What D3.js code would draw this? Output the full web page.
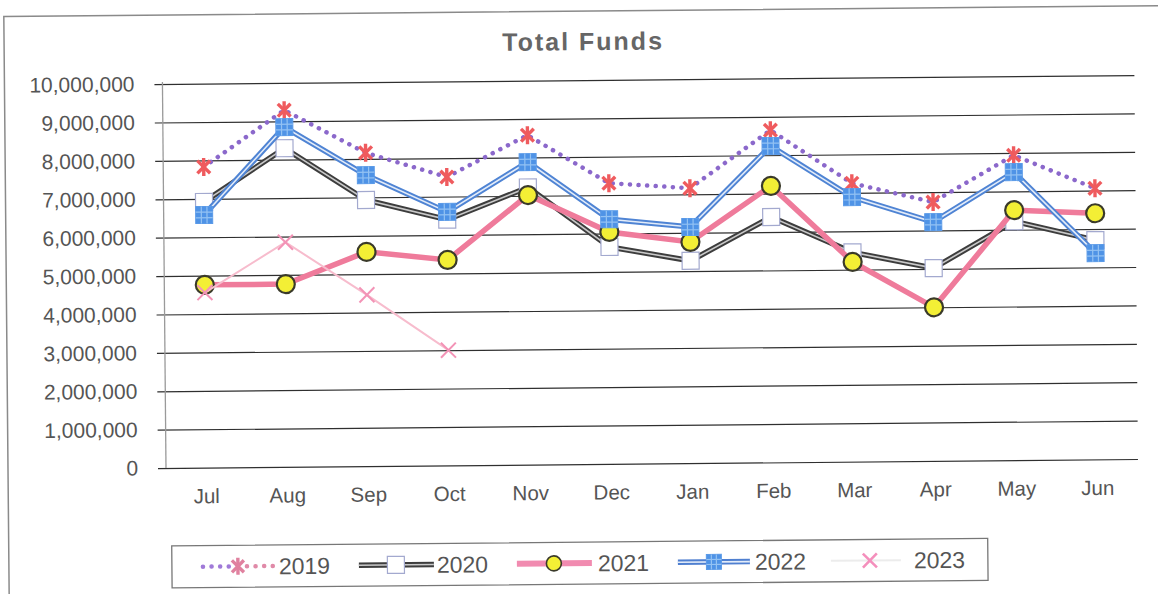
<!DOCTYPE html>
<html>
<head>
<meta charset="utf-8">
<script src="https://cdn.jsdelivr.net/npm/d3@7"></script>
<style>
  html, body { margin: 0; padding: 0; background: #fff; }
  svg { display: block; }
</style>
</head>
<body>
<svg id="chart" width="1158" height="594"></svg>
<script>
// ---- data ----
const months = ["Jul","Aug","Sep","Oct","Nov","Dec","Jan","Feb","Mar","Apr","May","Jun"];
const years = ["2019","2020","2021","2022","2023"];
const s2019 = [7830000, 9290000, 8160000, 7510000, 8580000, 7310000, 7160000, 8650000, 7250000, 6740000, 7940000, 7060000];
const s2020 = [6920000, 8300000, 6930000, 6400000, 7220000, 5650000, 5270000, 6390000, 5450000, 5020000, 6220000, 5710000];
const s2021 = [4760000, 4760000, 5580000, 5350000, 7020000, 6040000, 5760000, 7200000, 5200000, 4000000, 6510000, 6410000];
const s2022 = [6580000, 8850000, 7580000, 6600000, 7880000, 6370000, 6150000, 8240000, 6890000, 6220000, 7500000, 5370000];
const s2023 = [4560000, 5850000, 4460000, 3000000];
const yTicks = [0, 1000000, 2000000, 3000000, 4000000, 5000000, 6000000, 7000000, 8000000, 9000000, 10000000];
const title = "Total Funds";

// ---- layout ----
const svg = d3.select("#chart");
const X0 = 166, Y0 = 468, YT = 84, STEP = 81;
const plotW = STEP * months.length;
const root = svg.append("g").attr("transform", `rotate(-0.53, ${X0}, ${Y0})`);

// frame
root.append("rect").attr("x", 8).attr("y", 15).attr("width", 1175).attr("height", 610)
  .attr("fill", "none").attr("stroke", "#8a8a8a").attr("stroke-width", 1.5);

const x = d3.scaleBand().domain(months).range([X0, X0 + plotW]).padding(0);
const cx = m => x(m) + x.bandwidth() / 2;
const y = d3.scaleLinear().domain([0, 10000000]).range([Y0, YT]);

// title
root.append("text").attr("x", 587).attr("y", 54).attr("text-anchor", "middle")
  .attr("font-family", "Liberation Sans, Arial, sans-serif").attr("font-weight", "bold")
  .attr("font-size", 25).attr("letter-spacing", 2).attr("fill", "#666").text(title);

// y axis + gridlines
const yAxis = d3.axisLeft(y).tickValues(yTicks).tickFormat(d3.format(",")).tickSize(0).tickPadding(28);
const gy = root.append("g").attr("transform", `translate(${X0},0)`).call(yAxis);
gy.select(".domain").remove();
gy.selectAll(".tick line").attr("x1", -8).attr("x2", plotW).attr("stroke", "#2f2f2f").attr("stroke-width", 1.2);
gy.selectAll(".tick text").attr("font-family", "Liberation Sans, Arial, sans-serif")
  .attr("font-size", 21).attr("fill", "#555");
root.append("line").attr("x1", X0).attr("x2", X0).attr("y1", YT - 2).attr("y2", Y0)
  .attr("stroke", "#9a9a9a").attr("stroke-width", 1.3);

// x axis labels
const xAxis = d3.axisBottom(x).tickSize(0).tickPadding(21);
const gx = root.append("g").attr("transform", `translate(0,${Y0})`).call(xAxis);
gx.select(".domain").remove();
gx.selectAll(".tick text").attr("font-family", "Liberation Sans, Arial, sans-serif")
  .attr("font-size", 20.5).attr("fill", "#555");

const line = d3.line().x((d, i) => cx(months[i])).y(d => y(d));

// ---- marker helpers ----
function asterisk(g, px, py, s, color) {
  const r = s / 2;
  const gg = g.append("g").attr("transform", `translate(${px},${py})`)
    .attr("stroke", color).attr("stroke-width", 3.4).attr("stroke-linecap", "butt");
  [90, 45, -45].forEach(a => {
    const rad = a * Math.PI / 180;
    gg.append("line").attr("x1", -r * Math.cos(rad)).attr("y1", -r * Math.sin(rad))
      .attr("x2", r * Math.cos(rad)).attr("y2", r * Math.sin(rad));
  });
}
function whiteSquare(g, px, py, s) {
  g.append("rect").attr("x", px - s / 2).attr("y", py - s / 2).attr("width", s).attr("height", s)
    .attr("fill", "#fff").attr("stroke", "#a3a9cf").attr("stroke-width", 1.2);
}
function blueSquare(g, px, py, s) {
  g.append("rect").attr("x", px - s / 2).attr("y", py - s / 2).attr("width", s).attr("height", s)
    .attr("fill", "#4f93e6").attr("stroke", "#5a9ae8").attr("stroke-width", 1);
  const gg = g.append("g").attr("stroke", "#93c2f3").attr("stroke-width", 1.2);
  [-s / 6, s / 6].forEach(o => {
    gg.append("line").attr("x1", px - s / 2).attr("x2", px + s / 2).attr("y1", py + o).attr("y2", py + o);
    gg.append("line").attr("y1", py - s / 2).attr("y2", py + s / 2).attr("x1", px + o).attr("x2", px + o);
  });
}
function yellowDot(g, px, py, r) {
  g.append("circle").attr("cx", px).attr("cy", py).attr("r", r)
    .attr("fill", "#f3ef35").attr("stroke", "#3a3a2a").attr("stroke-width", 2.2);
}
function pinkX(g, px, py, s, color, w) {
  const r = s / 2;
  const gg = g.append("g").attr("stroke", color).attr("stroke-width", w);
  gg.append("line").attr("x1", px - r).attr("y1", py - r).attr("x2", px + r).attr("y2", py + r);
  gg.append("line").attr("x1", px - r).attr("y1", py + r).attr("x2", px + r).attr("y2", py - r);
}

// ---- series ----
// 2019
const g19 = root.append("g");
g19.append("path").attr("d", line(s2019)).attr("fill", "none").attr("stroke", "#8b68cb")
  .attr("stroke-width", 4.5).attr("stroke-dasharray", "0.1 8.5").attr("stroke-linecap", "round");
s2019.forEach((v, i) => asterisk(g19, cx(months[i]), y(v), 18, "#ef5b5e"));

// 2020
const g20 = root.append("g");
g20.append("path").attr("d", line(s2020)).attr("fill", "none").attr("stroke", "#3d3d3d").attr("stroke-width", 5.5);
g20.append("path").attr("d", line(s2020)).attr("fill", "none").attr("stroke", "#c9c9c9").attr("stroke-width", 1.6);
s2020.forEach((v, i) => whiteSquare(g20, cx(months[i]), y(v), 17));

// 2021
const g21 = root.append("g");
g21.append("path").attr("d", line(s2021)).attr("fill", "none").attr("stroke", "#ef7b9b").attr("stroke-width", 5.5);
s2021.forEach((v, i) => yellowDot(g21, cx(months[i]), y(v), 9));

// 2022
const g22 = root.append("g");
g22.append("path").attr("d", line(s2022)).attr("fill", "none").attr("stroke", "#4f84d4").attr("stroke-width", 5.5);
g22.append("path").attr("d", line(s2022)).attr("fill", "none").attr("stroke", "#e3ecf9").attr("stroke-width", 1.6);
s2022.forEach((v, i) => blueSquare(g22, cx(months[i]), y(v), 17));

// 2023
const g23 = root.append("g");
g23.append("path").attr("d", line(s2023)).attr("fill", "none").attr("stroke", "#f7bccd").attr("stroke-width", 2);
s2023.forEach((v, i) => pinkX(g23, cx(months[i]), y(v), 15, "#f393b6", 2));

// ---- legend ----
const lg = root.append("g");
lg.append("rect").attr("x", 171).attr("y", 546).attr("width", 816).attr("height", 42)
  .attr("fill", "#fff").attr("stroke", "#777").attr("stroke-width", 1.3);
const LY = 567;
const legendText = [278, 436, 597, 754, 913];
// 2019 symbol
lg.append("line").attr("x1", 202).attr("x2", 228).attr("y1", LY).attr("y2", LY)
  .attr("stroke", "#a07ad8").attr("stroke-width", 4.5).attr("stroke-dasharray", "0.1 8.5").attr("stroke-linecap", "round");
lg.append("line").attr("x1", 246).attr("x2", 272).attr("y1", LY).attr("y2", LY)
  .attr("stroke", "#e08aa8").attr("stroke-width", 4.5).attr("stroke-dasharray", "0.1 8.5").attr("stroke-linecap", "round");
asterisk(lg, 237, LY, 17, "#e0819f");
// 2020 symbol
lg.append("line").attr("x1", 358).attr("x2", 433).attr("y1", LY).attr("y2", LY).attr("stroke", "#3d3d3d").attr("stroke-width", 5.5);
lg.append("line").attr("x1", 358).attr("x2", 433).attr("y1", LY).attr("y2", LY).attr("stroke", "#c9c9c9").attr("stroke-width", 1.6);
whiteSquare(lg, 395, LY, 17);
// 2021 symbol
lg.append("line").attr("x1", 516).attr("x2", 591).attr("y1", LY).attr("y2", LY).attr("stroke", "#f18bb0").attr("stroke-width", 6);
lg.append("circle").attr("cx", 553).attr("cy", LY).attr("r", 7.5).attr("fill", "#f3ef35").attr("stroke", "#3a3a2a").attr("stroke-width", 1.6);
// 2022 symbol
lg.append("line").attr("x1", 677).attr("x2", 749).attr("y1", LY).attr("y2", LY).attr("stroke", "#4f7fd0").attr("stroke-width", 5.5);
lg.append("line").attr("x1", 677).attr("x2", 749).attr("y1", LY).attr("y2", LY).attr("stroke", "#e3ecf9").attr("stroke-width", 1.6);
blueSquare(lg, 713, LY, 15);
// 2023 symbol
lg.append("line").attr("x1", 830).attr("x2", 900).attr("y1", LY).attr("y2", LY).attr("stroke", "#ececec").attr("stroke-width", 2);
pinkX(lg, 869, LY, 14, "#f48fbc", 2.6);
years.forEach((t, i) => {
  lg.append("text").attr("x", legendText[i]).attr("y", LY).attr("dy", "0.36em")
    .attr("font-family", "Liberation Sans, Arial, sans-serif").attr("font-size", 23).attr("fill", "#555").text(t);
});
</script>
</body>
</html>
